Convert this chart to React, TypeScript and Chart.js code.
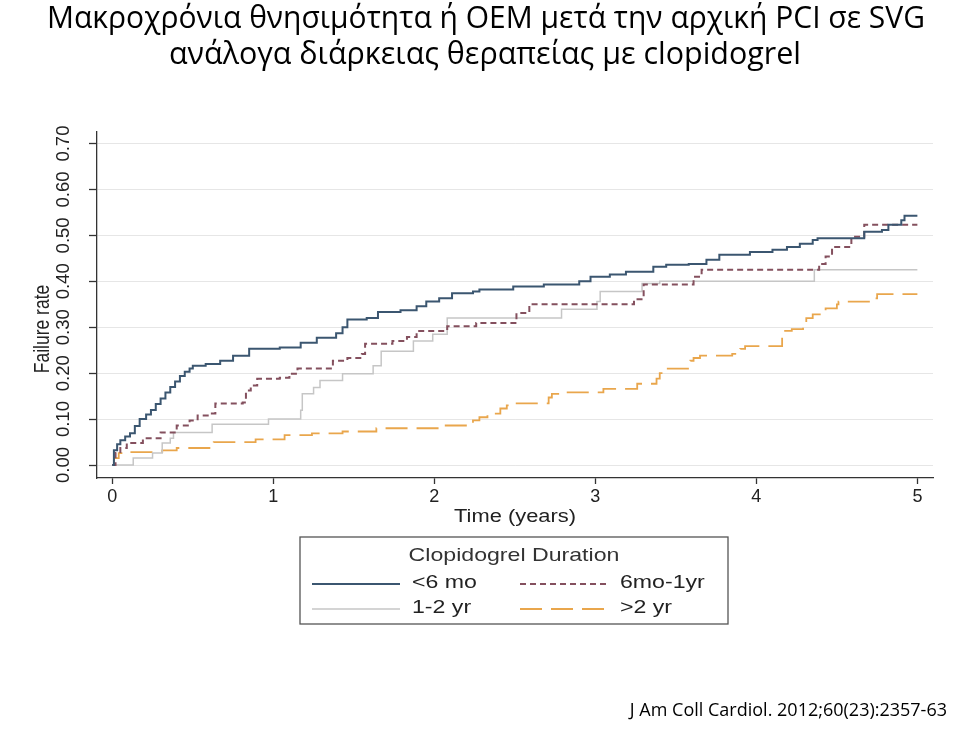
import React, { useEffect, useRef } from "react";
import { Chart, registerables } from "chart.js";

Chart.register(...registerables);

// ---------- text ----------
const titleLines = [
  "Μακροχρόνια θνησιμότητα ή ΟΕΜ μετά την αρχική PCI σε SVG",
  "ανάλογα διάρκειας θεραπείας με clopidogrel",
];
const citation = "J Am Coll Cardiol. 2012;60(23):2357-63";
const xAxisTitle = "Time (years)";
const yAxisTitle = "Failure rate";
const legendTitle = "Clopidogrel Duration";

// ---------- ticks ----------
const xTickValues = [0, 1, 2, 3, 4, 5];
const yTickValues = [0, 0.1, 0.2, 0.3, 0.4, 0.5, 0.6, 0.7];

// ---------- series ----------
const seriesLabels = ["<6 mo", "6mo-1yr", "1-2 yr", ">2 yr"];

const lt6moYears = [0, 0.01, 0.03, 0.05, 0.08, 0.11, 0.14, 0.17, 0.21, 0.24, 0.27, 0.3, 0.33, 0.36, 0.39, 0.42, 0.45, 0.48, 0.5, 0.58, 0.67, 0.75, 0.85, 1.04, 1.17, 1.27, 1.39, 1.43, 1.46, 1.58, 1.65, 1.79, 1.89, 1.95, 2.03, 2.11, 2.24, 2.28, 2.49, 2.68, 2.9, 2.97, 3.09, 3.19, 3.36, 3.44, 3.58, 3.69, 3.77, 3.96, 4.1, 4.19, 4.27, 4.35, 4.38, 4.67, 4.78, 4.82, 4.9, 4.92, 5.0];
const lt6moRates = [0, 0.032, 0.045, 0.054, 0.062, 0.069, 0.085, 0.1, 0.11, 0.12, 0.133, 0.145, 0.158, 0.17, 0.182, 0.194, 0.203, 0.21, 0.216, 0.22, 0.227, 0.238, 0.253, 0.256, 0.266, 0.277, 0.287, 0.3, 0.317, 0.32, 0.333, 0.337, 0.346, 0.356, 0.363, 0.374, 0.378, 0.382, 0.389, 0.393, 0.4, 0.41, 0.415, 0.421, 0.432, 0.436, 0.438, 0.447, 0.458, 0.464, 0.469, 0.475, 0.482, 0.49, 0.494, 0.508, 0.512, 0.523, 0.533, 0.543, 0.543];

const mo6to1yrYears = [0, 0.02, 0.05, 0.09, 0.19, 0.3, 0.4, 0.48, 0.53, 0.61, 0.64, 0.81, 0.83, 0.86, 0.9, 1.04, 1.1, 1.15, 1.37, 1.46, 1.55, 1.57, 1.74, 1.83, 1.89, 2.08, 2.26, 2.51, 2.59, 3.24, 3.3, 3.61, 3.66, 4.39, 4.43, 4.47, 4.59, 4.67, 5.0];
const mo6to1yrRates = [0, 0.026, 0.037, 0.048, 0.058, 0.071, 0.086, 0.097, 0.108, 0.112, 0.134, 0.136, 0.162, 0.173, 0.188, 0.19, 0.199, 0.21, 0.227, 0.233, 0.242, 0.264, 0.27, 0.279, 0.292, 0.302, 0.309, 0.331, 0.35, 0.361, 0.393, 0.41, 0.425, 0.438, 0.454, 0.475, 0.497, 0.523, 0.523];

const yr1to2Years = [0, 0.13, 0.25, 0.31, 0.36, 0.38, 0.62, 0.97, 1.17, 1.18, 1.25, 1.29, 1.43, 1.62, 1.67, 1.87, 1.99, 2.08, 2.79, 3.01, 3.03, 3.29, 3.4, 4.36, 5.0];
const yr1to2Rates = [0, 0.015, 0.026, 0.048, 0.058, 0.071, 0.089, 0.1, 0.119, 0.155, 0.169, 0.184, 0.199, 0.216, 0.248, 0.27, 0.285, 0.32, 0.339, 0.356, 0.378, 0.395, 0.4, 0.425, 0.425];

const gt2yrYears = [0, 0.01, 0.04, 0.07, 0.31, 0.4, 0.61, 0.63, 0.89, 1.07, 1.24, 1.43, 1.64, 2.05, 2.24, 2.28, 2.33, 2.41, 2.45, 2.47, 2.71, 2.73, 2.78, 3.05, 3.26, 3.38, 3.4, 3.43, 3.59, 3.61, 3.65, 3.85, 3.9, 3.93, 4.16, 4.17, 4.22, 4.29, 4.31, 4.35, 4.41, 4.43, 4.5, 4.51, 4.72, 4.75, 5.0];
const gt2yrRates = [0, 0.015, 0.026, 0.028, 0.032, 0.037, 0.043, 0.05, 0.056, 0.065, 0.069, 0.073, 0.08, 0.086, 0.097, 0.104, 0.112, 0.123, 0.13, 0.134, 0.147, 0.155, 0.158, 0.166, 0.177, 0.188, 0.2, 0.21, 0.227, 0.233, 0.238, 0.242, 0.253, 0.259, 0.277, 0.292, 0.296, 0.307, 0.32, 0.328, 0.335, 0.341, 0.35, 0.356, 0.363, 0.372, 0.372];

// ---------- styles ----------
const seriesColors = ["#3b5670", "#84505e", "#c6c6c6", "#e9a64c"];
const seriesDashes: number[][] = [[], [6, 4], [], [22, 9]];
const seriesWidths = [2, 2, 1.5, 1.8];

const toPoints = (xs: number[], ys: number[]) => xs.map((x, i) => ({ x, y: ys[i] }));

const SX = 1.25; // horizontal stretch of the original figure text

function stretchedText(
  ctx: CanvasRenderingContext2D,
  text: string,
  x: number,
  y: number,
  rotate = 0
) {
  ctx.save();
  ctx.translate(x, y);
  ctx.scale(SX, 1);
  if (rotate) ctx.rotate(rotate);
  ctx.fillText(text, 0, 0);
  ctx.restore();
}

const decorPlugin = {
  id: "decor",
  afterDraw(chart: any) {
    const ctx: CanvasRenderingContext2D = chart.ctx;
    const ca = chart.chartArea;
    ctx.save();

    // Slide title
    ctx.fillStyle = "#000";
    ctx.textAlign = "center";
    ctx.textBaseline = "alphabetic";
    ctx.font = "30.5px 'Open Sans'";
    ctx.fillText(titleLines[0], 486, 28, 878);
    ctx.fillText(titleLines[1], 485, 64, 632);

    // Citation
    ctx.textAlign = "right";
    ctx.font = "18px 'Open Sans'";
    ctx.fillText(citation, 947, 716, 325);

    // Axis titles
    ctx.fillStyle = "#222";
    ctx.textAlign = "center";
    ctx.textBaseline = "middle";
    ctx.font = "17.5px 'Liberation Sans'";
    stretchedText(ctx, xAxisTitle, (ca.left + ca.right) / 2, 517);
    stretchedText(ctx, yAxisTitle, 43, 329, -Math.PI / 2);

    // Legend box
    const bx = 300, by = 537, bw = 428, bh = 87;
    ctx.strokeStyle = "#555";
    ctx.lineWidth = 1.3;
    ctx.setLineDash([]);
    ctx.strokeRect(bx, by, bw, bh);

    ctx.fillStyle = "#333";
    ctx.font = "18.5px 'Liberation Sans'";
    stretchedText(ctx, legendTitle, bx + bw / 2, 556);

    const cols = [312, 520];
    const rows = [583, 608];
    const lineLen = 88;
    const textOffset = 100;
    seriesLabels.forEach((lab, i) => {
      const cx = cols[i % 2];
      const cy = rows[Math.floor(i / 2)];
      ctx.save();
      ctx.strokeStyle = seriesColors[i];
      ctx.lineWidth = seriesWidths[i];
      ctx.setLineDash(seriesDashes[i]);
      ctx.beginPath();
      ctx.moveTo(cx, cy + 1);
      ctx.lineTo(cx + lineLen, cy + 1);
      ctx.stroke();
      ctx.restore();
      ctx.textAlign = "left";
      ctx.textBaseline = "middle";
      ctx.fillStyle = "#222";
      ctx.font = "18.5px 'Liberation Sans'";
      stretchedText(ctx, lab, cx + textOffset, cy);
    });

    ctx.restore();
  },
};

export default function App() {
  const canvasRef = useRef<HTMLCanvasElement | null>(null);

  useEffect(() => {
    const canvas = canvasRef.current;
    if (!canvas) return;
    const xsList = [lt6moYears, mo6to1yrYears, yr1to2Years, gt2yrYears];
    const ysList = [lt6moRates, mo6to1yrRates, yr1to2Rates, gt2yrRates];

    const chart = new Chart(canvas, {
      type: "line",
      data: {
        datasets: seriesLabels.map((label, i) => ({
          label,
          data: toPoints(xsList[i], ysList[i]),
          borderColor: seriesColors[i],
          borderWidth: seriesWidths[i],
          borderDash: seriesDashes[i],
          stepped: "before" as const,
          pointRadius: 0,
          fill: false,
          tension: 0,
        })),
      },
      options: {
        responsive: false,
        animation: false,
        layout: { padding: { left: 0, right: 27, top: 132, bottom: 212 } },
        plugins: {
          legend: { display: false },
          title: { display: false },
          tooltip: { enabled: false },
        },
        scales: {
          x: {
            type: "linear",
            min: -0.095,
            max: 5.097,
            afterBuildTicks: (scale: any) => {
              scale.ticks = xTickValues.map((v) => ({ value: v }));
            },
            afterFit: (scale: any) => {
              scale.height = 40;
            },
            ticks: {
              font: { family: "'Liberation Sans'", size: 18 },
              color: "#222",
              padding: 2,
              maxRotation: 0,
              autoSkip: false,
              callback: (v: any) => String(v),
            },
            grid: {
              drawOnChartArea: false,
              drawTicks: true,
              tickLength: 6,
              tickColor: "#333",
              tickWidth: 1.3,
            },
            border: { display: true, color: "#333", width: 1.3 },
          },
          y: {
            type: "linear",
            min: -0.0283,
            max: 0.7252,
            afterBuildTicks: (scale: any) => {
              scale.ticks = yTickValues.map((v) => ({ value: v }));
            },
            afterFit: (scale: any) => {
              scale.width = 97;
            },
            ticks: {
              font: { family: "'Liberation Sans'", size: 18.5 },
              color: "#222",
              minRotation: 90,
              maxRotation: 90,
              crossAlign: "center",
              padding: 7,
              autoSkip: false,
              callback: (v: any) => Number(v).toFixed(2),
            },
            grid: {
              color: "#e6e6e6",
              lineWidth: 1,
              drawTicks: true,
              tickLength: 8,
              tickColor: "#333",
              tickWidth: 1.3,
            },
            border: { display: true, color: "#333", width: 1.3 },
          },
        },
      },
      plugins: [decorPlugin],
    } as any);

    return () => chart.destroy();
  }, []);

  return (
    <div style={{ position: "absolute", left: 0, top: 0, width: 960, height: 730, background: "#fff" }}>
      <canvas ref={canvasRef} width={960} height={730} style={{ width: 960, height: 730, display: "block" }} />
    </div>
  );
}
